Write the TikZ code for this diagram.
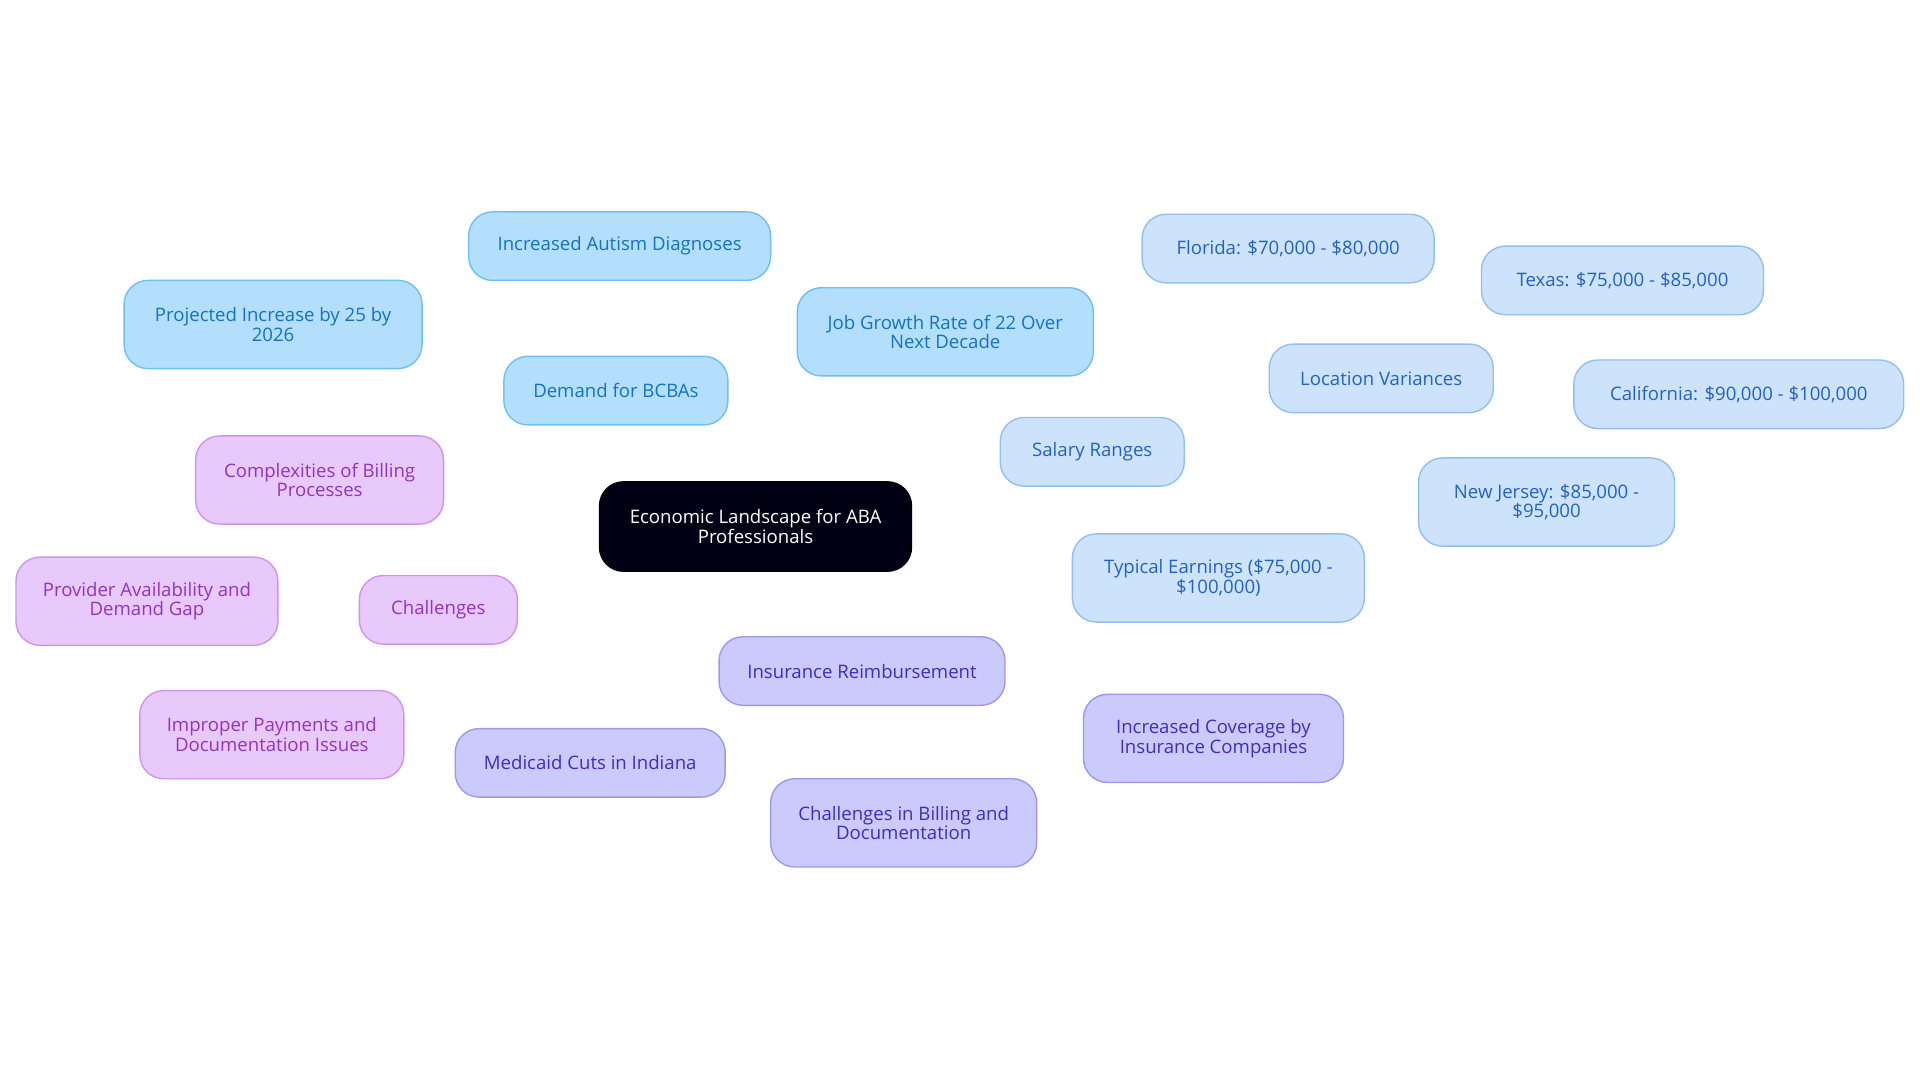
\documentclass[tikz,border=0pt]{standalone}
\usepackage{fontspec}
\setmainfont{Open Sans}
\usetikzlibrary{backgrounds}
\definecolor{bF}{HTML}{B3DFFC}\definecolor{bD}{HTML}{6EC0F2}\definecolor{bT}{HTML}{1472C4}
\definecolor{sF}{HTML}{CDE3FB}\definecolor{sD}{HTML}{92BFF0}\definecolor{sT}{HTML}{2362C4}
\definecolor{iF}{HTML}{CACAFC}\definecolor{iD}{HTML}{9C98F0}\definecolor{iT}{HTML}{3B2FC0}
\definecolor{cF}{HTML}{E8C9FB}\definecolor{cD}{HTML}{D093F0}\definecolor{cT}{HTML}{9233C4}
\tikzset{
 base/.style={rounded corners=12pt, line width=0.7pt, align=center, font=\fontsize{9.3}{9.8}\selectfont, minimum height=34.3pt, inner sep=2pt},
 tall/.style={minimum height=44.1pt},
 nb/.style={base, fill=bF, draw=bD, text=bT},
 ns/.style={base, fill=sF, draw=sD, text=sT},
 ni/.style={base, fill=iF, draw=iD, text=iT},
 nc/.style={base, fill=cF, draw=cD, text=cT},
 eb/.style={draw=bD, line width=1.2pt},
 es/.style={draw=sD, line width=1.2pt},
 ei/.style={draw=iD, line width=1.2pt},
 ec/.style={draw=cD, line width=1.2pt},
}
\begin{document}
\begin{tikzpicture}[x=0.6123pt,y=-0.6123pt]
\useasboundingbox[fill=white] (0,0) rectangle (1568,884.5);
\node[base, fill=black!92!blue, draw=black, text=white, minimum width=156pt, minimum height=44.7pt] (c) at (617,430) {Economic Landscape for ABA\\Professionals};
\node[nb, minimum width=112pt] (d) at (503,319) {Demand for BCBAs};
\node[nb, minimum width=151pt] (d1) at (506,201) {Increased Autism Diagnoses};
\node[nb, tall, minimum width=149pt] (d2) at (223,265) {Projected Increase by 25 by\\2026};
\node[nb, tall, minimum width=148pt] (d3) at (772,271) {Job Growth Rate of 22 Over\\Next Decade};
\node[ns, minimum width=92pt] (s) at (892,369) {Salary Ranges};
\node[ns, minimum width=112pt] (l) at (1128,309) {Location Variances};
\node[ns, minimum width=146pt] (l1) at (1052,203) {Florida: \$70,000 - \$80,000};
\node[ns, minimum width=141pt] (l2) at (1325,229) {Texas: \$75,000 - \$85,000};
\node[ns, minimum width=165pt] (l3) at (1420,322) {California: \$90,000 - \$100,000};
\node[ns, tall, minimum width=128pt] (l4) at (1263,410) {New Jersey: \$85,000 -\\\$95,000};
\node[ns, tall, minimum width=146pt] (s1) at (995,472) {Typical Earnings (\$75,000 -\\\$100,000)};
\node[ni, minimum width=143pt] (i) at (704,548) {Insurance Reimbursement};
\node[ni, minimum width=135pt] (i1) at (482,623) {Medicaid Cuts in Indiana};
\node[ni, tall, minimum width=133pt] (i2) at (738,672) {Challenges in Billing and\\Documentation};
\node[ni, tall, minimum width=130pt] (i3) at (991,603) {Increased Coverage by\\Insurance Companies};
\node[nc, minimum width=79pt] (h) at (358,498) {Challenges};
\node[nc, tall, minimum width=124pt] (h1) at (261,392) {Complexities of Billing\\Processes};
\node[nc, tall, minimum width=131pt] (h2) at (120,491) {Provider Availability and\\Demand Gap};
\node[nc, tall, minimum width=132pt] (h3) at (222,600) {Improper Payments and\\Documentation Issues};
\begin{scope}[on background layer]
\draw[eb] (c.center)--(d.center) (d.center)--(d1.center) (d.center)--(d2.center) (d.center)--(d3.center);
\draw[es] (c.center)--(s.center) (s.center)--(l.center) (s.center)--(s1.center)
 (l.center)--(l1.center) (l.center)--(l2.center) (l.center)--(l3.center) (l.center)--(l4.center);
\draw[ei] (c.center)--(i.center) (i.center)--(i1.center) (i.center)--(i2.center) (i.center)--(i3.center);
\draw[ec] (c.center)--(h.center) (h.center)--(h1.center) (h.center)--(h2.center) (h.center)--(h3.center);
\end{scope}
\end{tikzpicture}
\end{document}
